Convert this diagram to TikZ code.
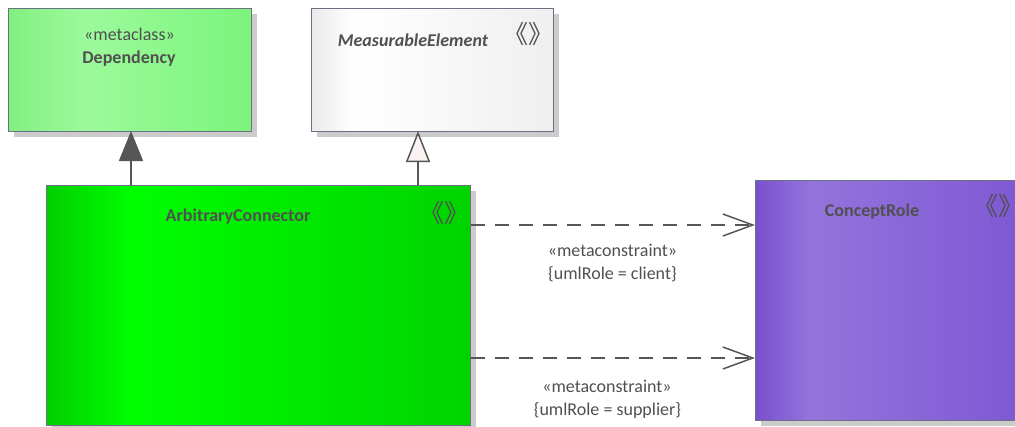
\documentclass[tikz,border=0pt]{standalone}
\usepackage{fontspec}
\setmainfont{Carlito}
\newfontfamily\cjk{Noto Sans CJK SC}
\usetikzlibrary{arrows.meta}
\definecolor{depA}{HTML}{82EF82}
\definecolor{depB}{HTML}{9CFA9C}
\definecolor{depC}{HTML}{7BF47B}
\definecolor{meA}{HTML}{EBEBEB}
\definecolor{meB}{HTML}{FFFFFF}
\definecolor{meC}{HTML}{EFEFEF}
\definecolor{acA}{HTML}{00CF00}
\definecolor{acB}{HTML}{00FF00}
\definecolor{acC}{HTML}{00D300}
\definecolor{crA}{HTML}{7950CD}
\definecolor{crB}{HTML}{9474DC}
\definecolor{crC}{HTML}{7E57D3}
\definecolor{bordc}{HTML}{6C7083}
\definecolor{shadc}{HTML}{CBCBCB}
\definecolor{connc}{HTML}{565656}
\definecolor{txtc}{HTML}{505050}
\definecolor{tipfill}{HTML}{FAF3F1}
\pgfdeclarehorizontalshading{depsh}{100bp}{color(0bp)=(depA); color(25bp)=(depA); color(41bp)=(depB); color(75bp)=(depC); color(100bp)=(depC)}
\pgfdeclarehorizontalshading{mesh}{100bp}{color(0bp)=(meA); color(25bp)=(meA); color(34bp)=(meB); color(75bp)=(meC); color(100bp)=(meC)}
\pgfdeclarehorizontalshading{acsh}{100bp}{color(0bp)=(acA); color(25bp)=(acA); color(35bp)=(acB); color(75bp)=(acC); color(100bp)=(acC)}
\pgfdeclarehorizontalshading{crsh}{100bp}{color(0bp)=(crA); color(25bp)=(crA); color(35bp)=(crB); color(75bp)=(crC); color(100bp)=(crC)}
\newcommand{\eaicon}{\hspace{-0.42em}《》\hspace{-0.42em}}
\begin{document}
\begin{tikzpicture}[x=1pt,y=-1pt,
  box/.style={draw=bordc, line width=1.2pt, anchor=north west, inner sep=0pt, shade},
  shadowbox/.style={fill=shadc, draw=none},
  txt/.style={text=txtc, inner sep=0pt, font=\fontsize{18}{22}\selectfont},
  ttl/.style={text=txtc, inner sep=0pt, font=\fontsize{18}{22}\selectfont\bfseries},
  icon/.style={text=txtc, inner sep=0pt, font=\fontsize{25}{28}\selectfont\cjk},
  conn/.style={draw=connc, line width=1.5pt},
  dashconn/.style={conn, dash pattern=on 14pt off 10pt, -{Straight Barb[length=30pt,width=22pt]}}]
\useasboundingbox (0,0) rectangle (1015,426);
\clip (0,0) rectangle (1015,426);
\fill[white] (0,0) rectangle (1015,426);
% shadows
\fill[shadowbox] (14,14) rectangle (257,137);
\fill[shadowbox] (317,14) rectangle (559,137);
\fill[shadowbox] (52,191) rectangle (476,431);
\fill[shadowbox] (761,186) rectangle (1035,426);
% boxes
\node[box, shading=depsh, minimum width=243pt, minimum height=123pt] (dep) at (8,8) {};
\node[box, shading=mesh, minimum width=242pt, minimum height=123pt] (me) at (311,8) {};
\node[box, shading=acsh, minimum width=424pt, minimum height=240pt] (ac) at (46,185) {};
\node[box, shading=crsh, minimum width=274pt, minimum height=240pt] (cr) at (755,180) {};
% texts
\node[txt] (depst) at (129.5,34) {«metaclass»};
\node[ttl] (depname) at (129,59) {Dependency};
\node[ttl, font=\fontsize{18}{22}\selectfont\bfseries\itshape] (mename) at (413,40) {MeasurableElement};
\node[icon] (meicon) at (534,34) {\eaicon};
\node[icon] (acicon) at (450,213) {\eaicon};
\node[icon] (cricon) at (1004,206) {\eaicon};
\node[ttl] (acname) at (238,217) {ArbitraryConnector};
\node[ttl] (crname) at (872,212) {ConceptRole};
% connectors
\coordinate (depfoot) at (131,131);
\coordinate (mefoot) at (418,131);
\draw[conn, -{Triangle[width=24pt,length=30pt]}] (ac.north -| depfoot) -- (depfoot);
\draw[conn, -{Triangle[open,width=24pt,length=31pt,fill=tipfill]}] (ac.north -| mefoot) -- (mefoot);
\draw[dashconn] (ac.east |- 0,225) -- (cr.west |- 0,225);
\draw[dashconn] (ac.east |- 0,358) -- (cr.west |- 0,358);
% labels
\node[txt] (l1a) at (612.5,250) {«metaconstraint»};
\node[txt] (l1b) at (612.5,274) {\{umlRole = client\}};
\node[txt] (l2a) at (607,386) {«metaconstraint»};
\node[txt] (l2b) at (607.5,410) {\{umlRole = supplier\}};
\end{tikzpicture}
\end{document}
